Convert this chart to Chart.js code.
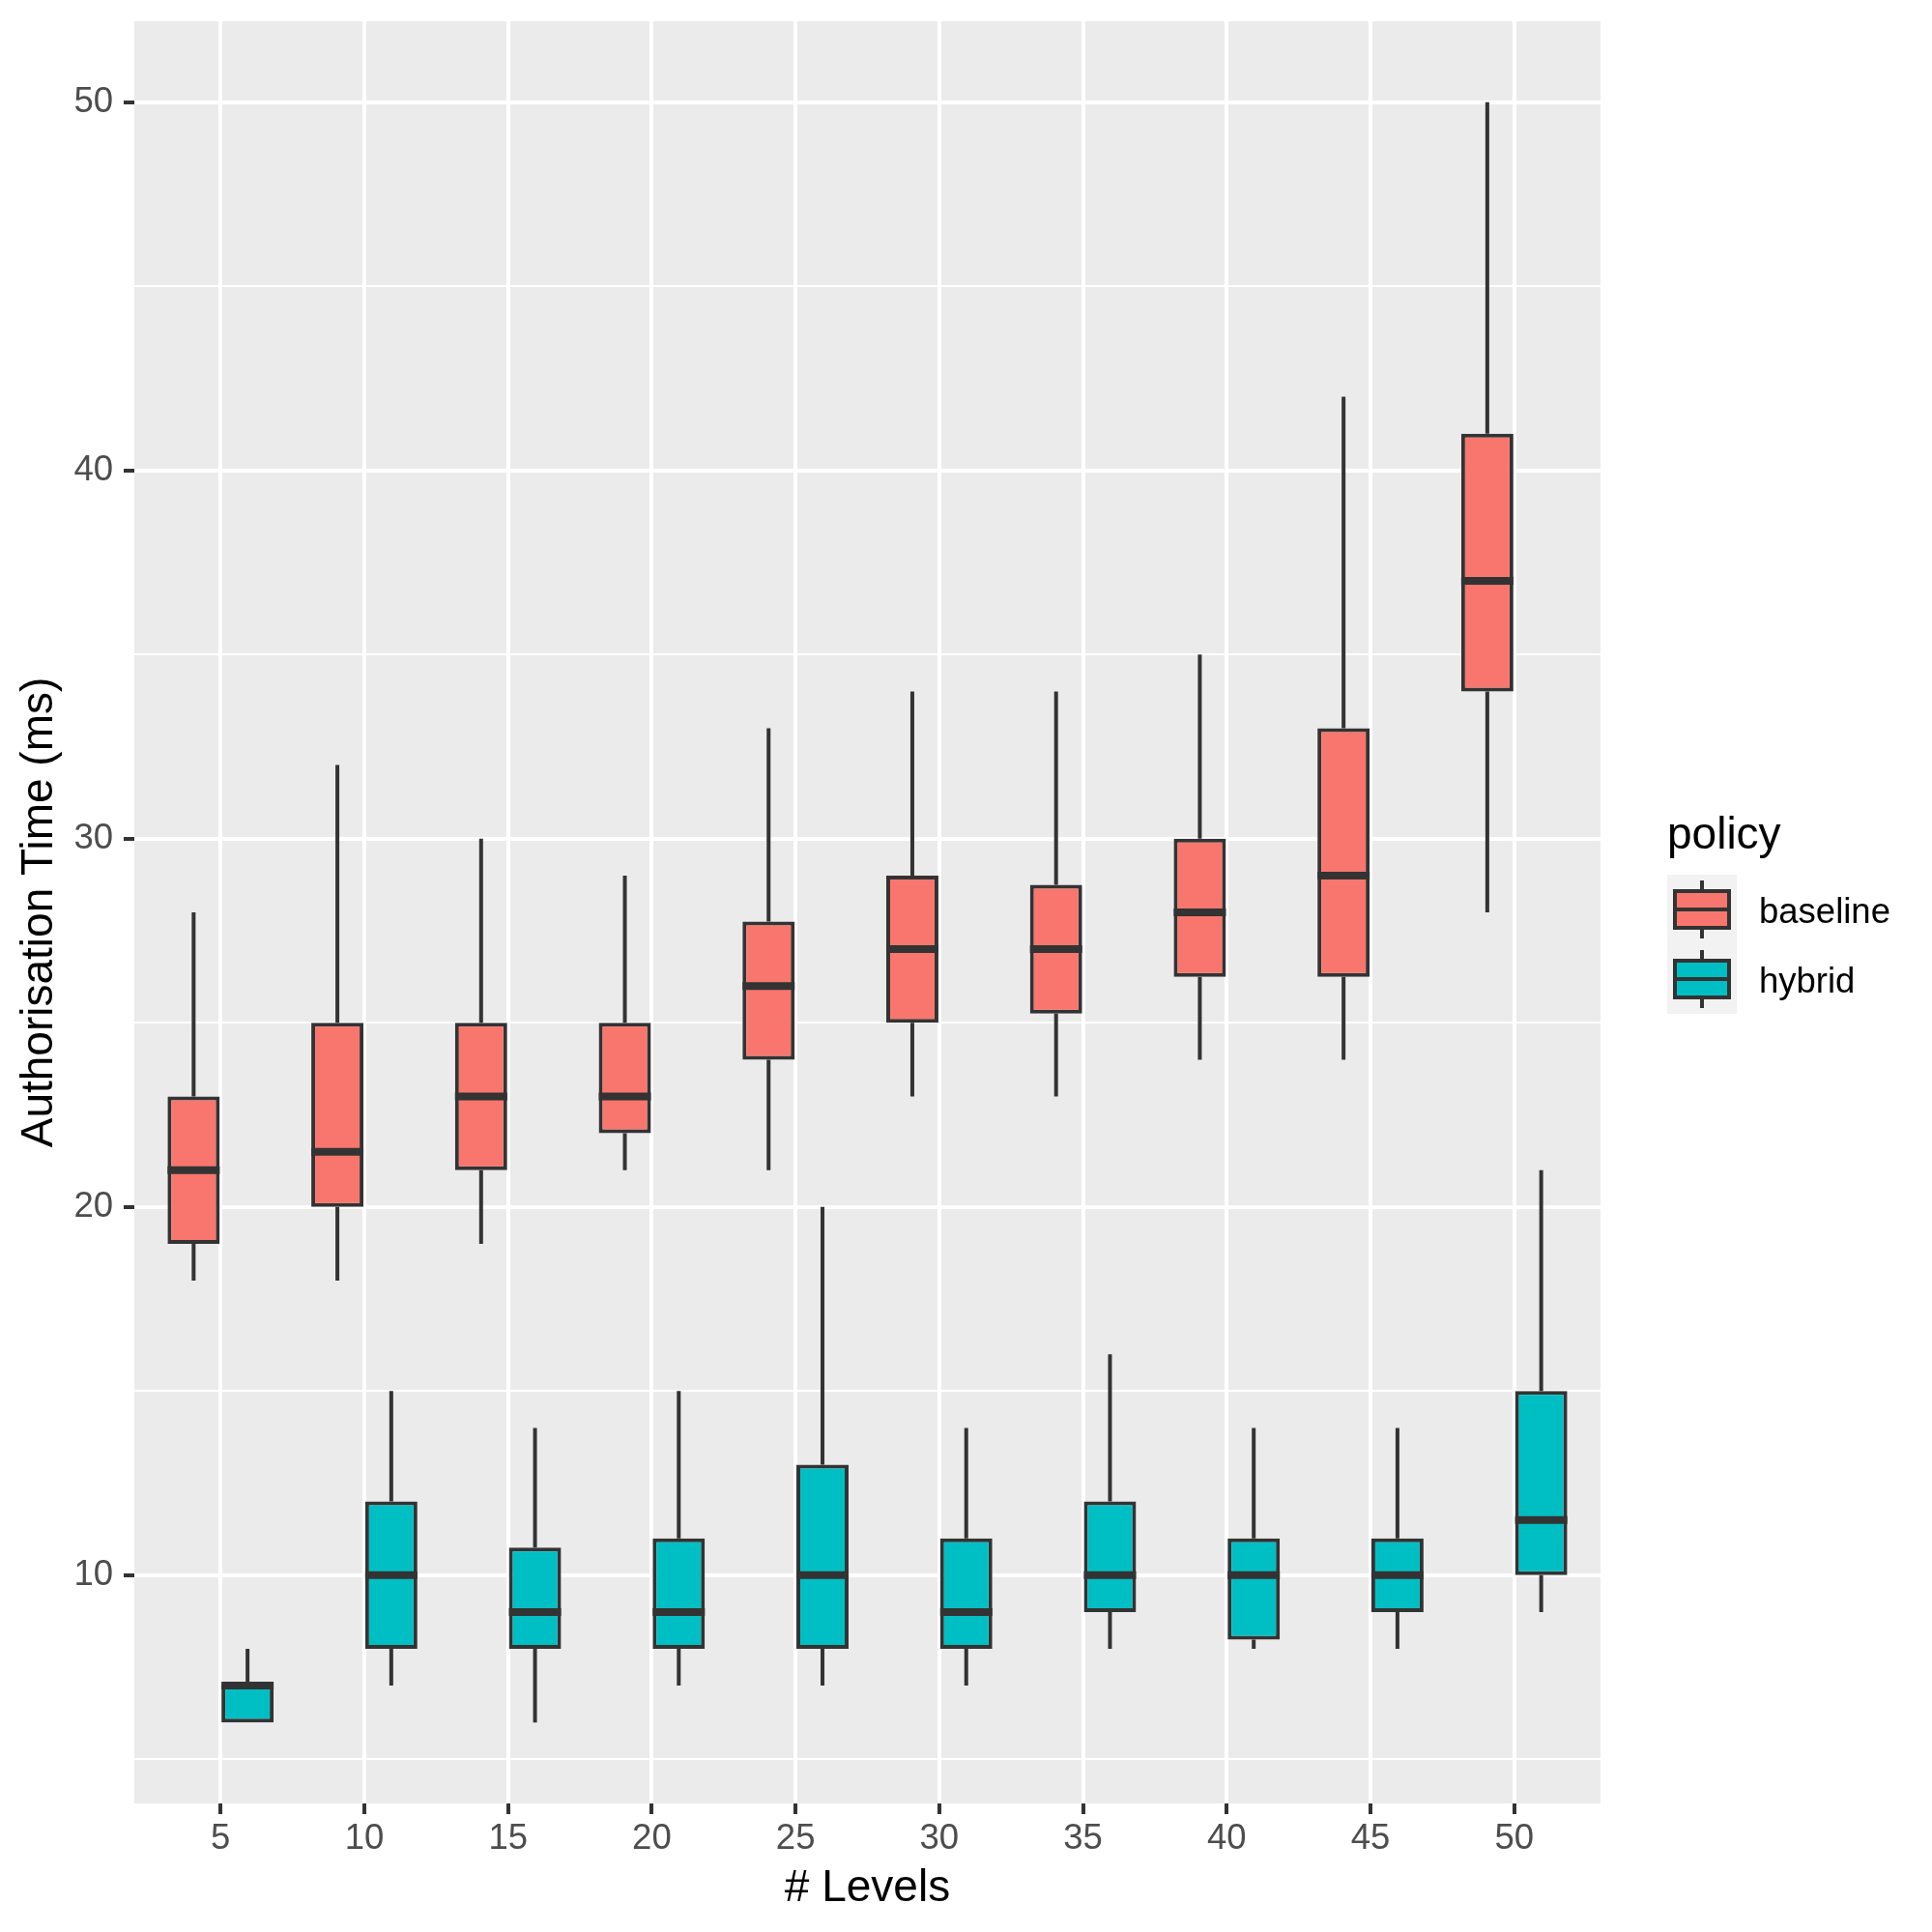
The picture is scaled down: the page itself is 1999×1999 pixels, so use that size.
<!DOCTYPE html>
<html>
<head>
<meta charset="utf-8">
<script src="https://cdn.jsdelivr.net/npm/chart.js@4"></script>
<style>
  html, body { margin: 0; padding: 0; background: #fff; }
  #wrap { width: 1999px; height: 1999px; }
</style>
</head>
<body>
<div id="wrap"><canvas id="grafica" width="1999" height="1999"></canvas></div>
<script>
// === Datos ===
const levels = ['5', '10', '15', '20', '25', '30', '35', '40', '45', '50'];

const baselineMin    = [18, 18, 19, 21, 21, 23, 23, 24, 24, 28];
const baselineQ1     = [19, 20, 21, 22, 24, 25, 25.25, 26.25, 26.25, 34];
const baselineMedian = [21, 21.5, 23, 23, 26, 27, 27, 28, 29, 37];
const baselineQ3     = [23, 25, 25, 25, 27.75, 29, 28.75, 30, 33, 41];
const baselineMax    = [28, 32, 30, 29, 33, 34, 34, 35, 42, 50];

const hybridMin    = [6, 7, 6, 7, 7, 7, 8, 8, 8, 9];
const hybridQ1     = [6, 8, 8, 8, 8, 8, 9, 8.25, 9, 10];
const hybridMedian = [7, 10, 9, 9, 10, 9, 10, 10, 10, 11.5];
const hybridQ3     = [7, 12, 10.75, 11, 13, 11, 12, 11, 11, 15];
const hybridMax    = [8, 15, 14, 15, 20, 14, 16, 14, 14, 21];

const yTicks = [5, 10, 15, 20, 25, 30, 35, 40, 45, 50];

const series = [
    { name: 'baseline', color: '#F8766D', min: baselineMin, q1: baselineQ1, med: baselineMedian, q3: baselineQ3, max: baselineMax },
    { name: 'hybrid', color: '#00BFC4', min: hybridMin, q1: hybridQ1, med: hybridMedian, q3: hybridQ3, max: hybridMax }
];

const INK = '#333333';
const FONT = "'Liberation Sans', Arial, sans-serif";

// fondo gris del panel
const panelBg = {
    id: 'panelBg',
    beforeDraw(chart) {
        const { ctx, chartArea: a } = chart;
        ctx.save();
        ctx.fillStyle = '#EBEBEB';
        ctx.fillRect(a.left, a.top, a.right - a.left, a.bottom - a.top);
        ctx.restore();
    }
};

// bigotes y medianas
const whiskers = {
    id: 'whiskers',
    afterDatasetsDraw(chart) {
        const { ctx } = chart;
        const y = chart.scales.y;
        ctx.save();
        ctx.strokeStyle = INK;
        series.forEach((s, d) => {
            const meta = chart.getDatasetMeta(d);
            meta.data.forEach((bar, i) => {
                const x = bar.x;
                const w = bar.width;
                ctx.lineWidth = 4;
                ctx.beginPath();
                ctx.moveTo(x, y.getPixelForValue(s.q3[i]));
                ctx.lineTo(x, y.getPixelForValue(s.max[i]));
                ctx.moveTo(x, y.getPixelForValue(s.q1[i]));
                ctx.lineTo(x, y.getPixelForValue(s.min[i]));
                ctx.stroke();
                ctx.lineWidth = 8;
                const ym = y.getPixelForValue(s.med[i]);
                ctx.beginPath();
                ctx.moveTo(x - w / 2, ym);
                ctx.lineTo(x + w / 2, ym);
                ctx.stroke();
            });
        });
        ctx.restore();
    }
};

// leyenda estilo ggplot
const boxLegend = {
    id: 'boxLegend',
    afterDraw(chart) {
        const { ctx } = chart;
        const left = 1725, keyTop = 905, key = 72;
        ctx.save();
        ctx.fillStyle = '#000';
        ctx.font = '46px ' + FONT;
        ctx.textBaseline = 'alphabetic';
        ctx.textAlign = 'left';
        ctx.fillText('policy', left, 878);
        series.forEach((s, i) => {
            const top = keyTop + i * key;
            const cy = top + key / 2;
            ctx.fillStyle = '#F2F2F2';
            ctx.fillRect(left, top, key, key);
            ctx.strokeStyle = INK;
            ctx.lineWidth = 4;
            ctx.beginPath();
            ctx.moveTo(left + key / 2, top + 6);
            ctx.lineTo(left + key / 2, top + key - 6);
            ctx.stroke();
            ctx.fillStyle = s.color;
            ctx.fillRect(left + 8, cy - 19, key - 16, 38);
            ctx.strokeRect(left + 8, cy - 19, key - 16, 38);
            ctx.beginPath();
            ctx.moveTo(left + 8, cy);
            ctx.lineTo(left + key - 8, cy);
            ctx.stroke();
            ctx.fillStyle = '#000';
            ctx.font = '36.5px ' + FONT;
            ctx.textBaseline = 'middle';
            ctx.fillText(s.name, 1820, cy + 4);
        });
        ctx.restore();
    }
};

const ctxGrafica = document.getElementById('grafica').getContext('2d');

new Chart(ctxGrafica, {
    type: 'bar',
    data: {
        datasets: series.map(s => ({
            label: s.name,
            data: levels.map((_, i) => ({ x: i, y: [s.q1[i], s.q3[i]] })),
            backgroundColor: s.color,
            borderColor: INK,
            borderWidth: 4,
            borderSkipped: false,
            categoryPercentage: 0.75,
            barPercentage: 0.968
        }))
    },
    options: {
        responsive: false,
        animation: false,
        devicePixelRatio: 1,
        layout: {
            padding: { left: 0, top: 22, right: 343, bottom: 0 }
        },
        plugins: {
            legend: { display: false },
            tooltip: { enabled: false }
        },
        scales: {
            x: {
                type: 'linear',
                min: -0.6,
                max: 9.6,
                offset: false,
                afterBuildTicks: (scale) => {
                    scale.ticks = levels.map((_, i) => ({ value: i }));
                },
                afterFit: (scale) => {
                    scale.height = 133;
                    scale.paddingLeft = 0;
                    scale.paddingRight = 0;
                },
                ticks: {
                    callback: (v) => levels[v],
                    color: '#4D4D4D',
                    padding: 4,
                    maxRotation: 0,
                    autoSkip: false,
                    font: { size: 36.5, family: FONT }
                },
                grid: {
                    offset: false,
                    color: '#FFFFFF',
                    lineWidth: 4,
                    tickColor: INK,
                    tickWidth: 4,
                    tickLength: 11
                },
                border: { display: false },
                title: {
                    display: true,
                    text: '# Levels',
                    color: '#000',
                    padding: { top: 0, bottom: 17 },
                    font: { size: 46, family: FONT }
                }
            },
            y: {
                min: 3.8,
                max: 52.2,
                afterBuildTicks: (scale) => {
                    scale.ticks = yTicks.map(v => ({ value: v }));
                },
                afterFit: (scale) => {
                    scale.width = 139;
                    scale.paddingTop = 0;
                    scale.paddingBottom = 0;
                },
                ticks: {
                    callback: (v) => (v % 10 === 0 ? v : ''),
                    color: '#4D4D4D',
                    padding: 11,
                    font: { size: 36.5, family: FONT }
                },
                grid: {
                    color: '#FFFFFF',
                    lineWidth: (c) => (c.tick && c.tick.value % 10 === 0 ? 4 : 2),
                    tickColor: (c) => (c.tick && c.tick.value % 10 === 0 ? INK : 'rgba(0,0,0,0)'),
                    tickWidth: 4,
                    tickLength: 11
                },
                border: { display: false },
                title: {
                    display: true,
                    text: 'Authorisation Time (ms)',
                    color: '#000',
                    padding: { top: 14, bottom: 0 },
                    font: { size: 46, family: FONT }
                }
            }
        }
    },
    plugins: [panelBg, whiskers, boxLegend]
});
</script>
</body>
</html>
